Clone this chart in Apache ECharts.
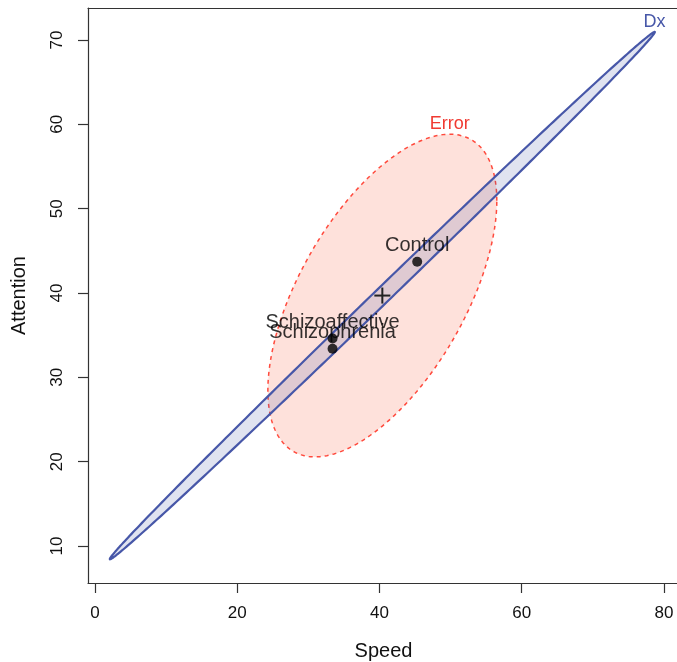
<!DOCTYPE html>
<html>
<head>
<meta charset="utf-8">
<script src="https://cdn.jsdelivr.net/npm/echarts@6/dist/echarts.min.js"></script>
<style>
  html, body { margin: 0; padding: 0; background: #fff; overflow: hidden; }
  #chart { width: 677px; height: 662px; }
</style>
</head>
<body>
<div id="chart"></div>
<script>
// Group means of the two response variables
const groups = ['Control', 'Schizoaffective', 'Schizophrenia'];
const speedMeans = [45.3, 33.4, 33.4];
const attentionMeans = [43.7, 34.6, 33.4];

// Grand mean (centre of both ellipses)
const grandMean = [40.4, 39.7];

// Ellipse shape matrices: [var(Speed), cov(Speed, Attention), var(Attention)]
const ellipseNames = ['Error', 'Dx'];
const errorMatrix = [259, 181, 366];
const dxMatrix = [1468, 1197.2, 978];

// Axis ticks
const speedTicks = [0, 20, 40, 60, 80];
const attentionTicks = [10, 20, 30, 40, 50, 60, 70];

const FONT = '"Liberation Sans", Arial, Helvetica, sans-serif';
const TEXT = '#111';
const AXIS = { color: '#333', width: 1.2 };
const X_RANGE = [-0.984, 82.11];
const Y_RANGE = [5.613, 73.80];

// Points on the ellipse {x : (x-c)' S^-1 (x-c) = 1}, via the Cholesky factor of S
function ellipsePoints(center, m, n) {
  const a = Math.sqrt(m[0]);
  const b = m[1] / a;
  const c = Math.sqrt(m[2] - b * b);
  const pts = [];
  for (let i = 0; i < n; i++) {
    const t = (2 * Math.PI * i) / n;
    pts.push([center[0] + a * Math.cos(t), center[1] + b * Math.cos(t) + c * Math.sin(t)]);
  }
  return pts;
}

// Highest point of the ellipse, used to anchor its name
function ellipseTop(center, m) {
  const sy = Math.sqrt(m[2]);
  return [center[0] + m[1] / sy, center[1] + sy];
}

function ellipseSeries(name, matrix, style) {
  return {
    type: 'custom',
    name: name,
    data: [grandMean],
    z: style.z,
    silent: true,
    renderItem: function (params, api) {
      const pts = ellipsePoints(grandMean, matrix, 360).map(p => api.coord(p));
      const top = api.coord(ellipseTop(grandMean, matrix));
      return {
        type: 'group',
        children: [
          {
            type: 'polygon',
            shape: { points: pts },
            style: {
              fill: style.fill,
              stroke: style.stroke,
              lineWidth: style.lineWidth,
              lineDash: style.lineDash || null
            }
          },
          {
            type: 'text',
            x: top[0],
            y: top[1] - 1,
            style: {
              text: name,
              fill: style.label,
              font: '18px ' + FONT,
              align: 'center',
              verticalAlign: 'bottom'
            }
          }
        ]
      };
    }
  };
}

const chart = echarts.init(document.getElementById('chart'), null, { renderer: 'canvas' });

chart.setOption({
  backgroundColor: '#fff',
  animation: false,
  grid: {
    left: 88,
    top: 8,
    width: 591,
    height: 575,
    show: false,
    outerBoundsMode: 'none',
    containLabel: false
  },
  xAxis: [
    {
      type: 'value',
      min: X_RANGE[0],
      max: X_RANGE[1],
      position: 'bottom',
      name: 'Speed',
      nameLocation: 'middle',
      nameGap: 58,
      nameTextStyle: { fontSize: 20, fontFamily: FONT, color: TEXT },
      axisLine: { show: true, onZero: false, lineStyle: AXIS },
      axisTick: { show: true, inside: false, length: 10, customValues: speedTicks, lineStyle: AXIS },
      axisLabel: { customValues: speedTicks, margin: 22, fontSize: 17, fontFamily: FONT, color: TEXT },
      splitLine: { show: false }
    },
    {
      // top edge of the plot frame
      type: 'value',
      min: X_RANGE[0],
      max: X_RANGE[1],
      position: 'top',
      axisLine: { show: true, onZero: false, lineStyle: AXIS },
      axisTick: { show: false },
      axisLabel: { show: false },
      splitLine: { show: false }
    }
  ],
  yAxis: {
    type: 'value',
    min: Y_RANGE[0],
    max: Y_RANGE[1],
    name: 'Attention',
    nameLocation: 'middle',
    nameGap: 59,
    nameRotate: 90,
    nameTextStyle: { fontSize: 20, fontFamily: FONT, color: TEXT },
    axisLine: { show: true, onZero: false, lineStyle: AXIS },
    axisTick: { show: true, inside: false, length: 10, customValues: attentionTicks, lineStyle: AXIS },
    axisLabel: { customValues: attentionTicks, rotate: 90, margin: 22, fontSize: 17, fontFamily: FONT, color: TEXT },
    splitLine: { show: false }
  },
  series: [
    ellipseSeries(ellipseNames[0], errorMatrix, {
      fill: 'rgba(250,120,90,0.22)',
      stroke: '#ff4a3d',
      lineWidth: 1.5,
      lineDash: [4, 4],
      label: '#f03a32',
      z: 2
    }),
    ellipseSeries(ellipseNames[1], dxMatrix, {
      fill: 'rgba(71,87,168,0.17)',
      stroke: '#4757a8',
      lineWidth: 2.2,
      label: '#4757a8',
      z: 3
    }),
    {
      type: 'scatter',
      name: 'means',
      z: 5,
      symbol: 'circle',
      symbolSize: 10,
      itemStyle: { color: '#000' },
      label: {
        show: true,
        position: 'top',
        distance: 1,
        formatter: p => p.data[2],
        fontSize: 20,
        fontFamily: FONT,
        color: '#000'
      },
      data: groups.map((g, i) => [speedMeans[i], attentionMeans[i], g])
    },
    {
      type: 'custom',
      name: 'grand mean',
      z: 6,
      data: [grandMean],
      renderItem: function (params, api) {
        const p = api.coord([api.value(0), api.value(1)]);
        const h = 8;
        const s = { stroke: '#222', lineWidth: 2 };
        return {
          type: 'group',
          children: [
            { type: 'line', shape: { x1: p[0] - h, y1: p[1], x2: p[0] + h, y2: p[1] }, style: s },
            { type: 'line', shape: { x1: p[0], y1: p[1] - h, x2: p[0], y2: p[1] + h }, style: s }
          ]
        };
      }
    }
  ]
});
</script>
</body>
</html>
